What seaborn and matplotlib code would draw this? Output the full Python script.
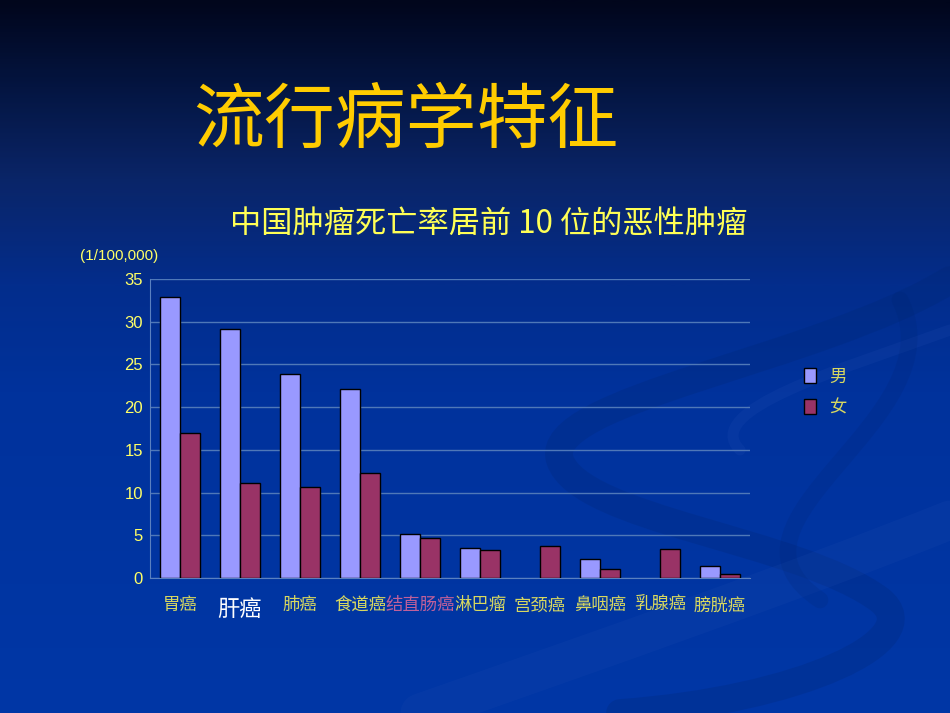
import numpy as np
import pandas as pd
import matplotlib
matplotlib.use("Agg")
import matplotlib.pyplot as plt
import seaborn as sns
from matplotlib.path import Path
from matplotlib.patches import PathPatch, Patch
from matplotlib.colors import LinearSegmentedColormap

# ---- data ----
categories = ['胃癌', '肝癌', '肺癌', '食道癌', '结直肠癌', '淋巴瘤', '宫颈癌', '鼻咽癌', '乳腺癌', '膀胱癌']
male = [32.9, 29.1, 23.9, 22.1, 5.2, 3.5, np.nan, 2.2, np.nan, 1.4]
female = [17.0, 11.1, 10.7, 12.3, 4.7, 3.3, 3.8, 1.1, 3.4, 0.5]
series_names = ['男', '女']
y_ticks = [0, 5, 10, 15, 20, 25, 30, 35]

title = '流行病学特征'
subtitle = '中国肿瘤死亡率居前 10 位的恶性肿瘤'
unit_label = '(1/100,000)'

df = pd.DataFrame({
    'cat': categories * 2,
    'sex': [series_names[0]] * len(categories) + [series_names[1]] * len(categories),
    'val': male + female,
})

sns.set_style('white')
plt.rcParams['font.family'] = ['Noto Sans CJK SC', 'DejaVu Sans']
plt.rcParams['axes.unicode_minus'] = False

fig = plt.figure(figsize=(9.5, 7.13), dpi=100)

# ---- background gradient ----
bg = fig.add_axes([0, 0, 1, 1], zorder=-10)
cmap = LinearSegmentedColormap.from_list('bg', [
    (0.0, '#01061c'), (0.12, '#041541'), (0.25, '#0a2568'),
    (0.40, '#032d8c'), (0.55, '#00329c'), (1.0, '#0037a6')])
grad = np.linspace(0, 1, 400).reshape(-1, 1)
bg.imshow(grad, aspect='auto', cmap=cmap, extent=[0, 950, 713, 0])
bg.set_xlim(0, 950)
bg.set_ylim(713, 0)
bg.axis('off')

# decorative swooshes (subtle)
def swoosh(pts, color, alpha, lw):
    codes = [Path.MOVETO] + [Path.CURVE4] * (len(pts) - 1)
    p = Path(pts, codes)
    bg.add_patch(PathPatch(p, fill=False, edgecolor=color, alpha=alpha, lw=lw, capstyle='round'))

swoosh([(950, 280), (820, 360), (540, 400), (560, 460),
        (580, 520), (800, 540), (880, 600), (930, 640), (800, 700), (620, 713)],
       '#00256e', 0.22, 20)
swoosh([(950, 330), (840, 370), (700, 410), (740, 450)], '#2a55b8', 0.15, 8)
swoosh([(420, 713), (600, 650), (800, 580), (950, 520)], '#1f4cb0', 0.18, 28)
swoosh([(900, 300), (960, 420), (700, 520), (820, 600)], '#00226a', 0.15, 12)

# ---- chart ----
ax = fig.add_axes([150 / 950, 1 - 578 / 713, 600 / 950, 299 / 713])
ax.patch.set_alpha(0)
sns.barplot(data=df, x='cat', y='val', hue='sex', hue_order=series_names,
            order=categories, palette=['#9999ff', '#993366'],
            width=0.667, edgecolor='black', linewidth=1.0, saturation=1,
            errorbar=None, ax=ax, legend=False, zorder=3)

ax.set_ylim(0, 35)
ax.set_xlim(-0.5, len(categories) - 0.5)
ax.set_yticks(y_ticks)
ax.set_yticklabels([str(t) for t in y_ticks], color='#ffff66', fontsize=12,
                   family=['Liberation Sans', 'DejaVu Sans'])
ax.grid(axis='y', color='#4f78b8', lw=1.0, zorder=0)
ax.set_axisbelow(True)
for s in ['top', 'right']:
    ax.spines[s].set_visible(False)
ax.spines['left'].set_color('#5a80c0')
ax.spines['bottom'].set_color('#5a80c0')
ax.tick_params(axis='y', length=0, pad=5)
ax.set_xlabel('')
ax.set_ylabel('')

# x labels
ax.set_xticks(range(len(categories)))
ax.set_xticklabels([])
ax.tick_params(axis='x', length=0)
ax.set_xticks(np.arange(-0.5, len(categories), 1), minor=True)
ax.tick_params(axis='x', which='minor', length=5, direction='in', color='#5a80c0')
for i, c in enumerate(categories):
    col, fs, dy = '#d8d860', 12.5, 0
    if c == '肝癌':
        col, fs, dy = '#ffffff', 16, 4
    elif c == '结直肠癌':
        col = '#c0609a'
    ax.text(i, -3.2 - dy / 8.6, c, ha='center', va='center', color=col, fontsize=fs)

# legend
handles = [Patch(facecolor='#9999ff', edgecolor='black', lw=1),
           Patch(facecolor='#993366', edgecolor='black', lw=1)]
leg = fig.legend(handles, series_names, loc='center left',
                 bbox_to_anchor=(788 / 950, 1 - 392 / 713), frameon=False,
                 handlelength=0.7, handleheight=1.0, handletextpad=0.8,
                 labelspacing=0.75, fontsize=12.5)
for t in leg.get_texts():
    t.set_color('#d8d860')

# titles
fig.text(193 / 950, 1 - 121 / 713, title, color='#ffcc00', fontsize=51,
         ha='left', va='center')
fig.text(489 / 950, 1 - 224 / 713, subtitle, color='#ffff55', fontsize=22.5,
         ha='center', va='center')
fig.text(80 / 950, 1 - 256 / 713, unit_label, color='#ffff66', fontsize=11,
         ha='left', va='center', family=['Liberation Sans', 'DejaVu Sans'])

fig.savefig('out.png', dpi=100)
